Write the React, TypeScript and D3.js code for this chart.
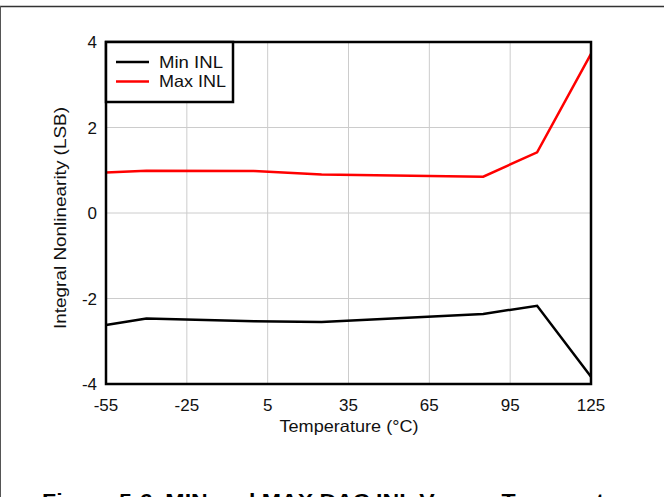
import React from "react";
import * as d3 from "d3";

const temps = [-55, -40, 0, 25, 85, 105, 125];
const minINL = [-2.62, -2.47, -2.53, -2.55, -2.36, -2.17, -3.83];
const maxINL = [0.95, 0.99, 0.98, 0.9, 0.85, 1.42, 3.72];
const xTicks = [-55, -25, 5, 35, 65, 95, 125];
const yTicks = [-4, -2, 0, 2, 4];
const seriesNames = ["Min INL", "Max INL"];
const seriesColors = ["#000000", "#ff0000"];

export default function App() {
  const W = 664, H = 497;
  const L = 106, R = 591, T = 42, B = 384;
  const x = d3.scaleLinear().domain([-55, 125]).range([L, R]);
  const y = d3.scaleLinear().domain([-4, 4]).range([B, T]);
  const line = d3.line<number>().x((_, i) => x(temps[i])).y((d) => y(d));
  const series = [minINL, maxINL];
  const font = "'Liberation Sans', Arial, sans-serif";
  return (
    <svg width={W} height={H} style={{ position: "absolute", left: 0, top: 0, background: "#fff" }} fontFamily={font}>
      <line x1={0} x2={W} y1={6.5} y2={6.5} stroke="#333" strokeWidth={1.5} />
      <line x1={0.5} x2={0.5} y1={6} y2={H} stroke="#555" strokeWidth={1} />
      {xTicks.map((t) => (
        <line key={"gx" + t} x1={x(t)} x2={x(t)} y1={T} y2={B} stroke="#cccccc" strokeWidth={1} />
      ))}
      {yTicks.map((t) => (
        <line key={"gy" + t} x1={L} x2={R} y1={y(t)} y2={y(t)} stroke="#cccccc" strokeWidth={1} />
      ))}
      {series.map((s, k) => (
        <path key={k} d={line(s) || ""} fill="none" stroke={seriesColors[k]} strokeWidth={2.5} strokeLinejoin="miter" />
      ))}
      <rect x={L} y={T} width={R - L} height={B - T} fill="none" stroke="#000" strokeWidth={2.5} />
      {xTicks.map((t) => (
        <text key={"xt" + t} x={x(t)} y={B + 27} textAnchor="middle" fontSize={17} fill="#111">{t}</text>
      ))}
      {yTicks.map((t) => (
        <text key={"yt" + t} x={L - 9} y={y(t) + 6} textAnchor="end" fontSize={17} fill="#111">{t}</text>
      ))}
      <text x={349} y={432} textAnchor="middle" fontSize={16.5} fill="#111" textLength={139} lengthAdjust="spacingAndGlyphs">Temperature (°C)</text>
      <text transform={`translate(66,${218}) rotate(-90)`} textAnchor="middle" fontSize={16.5} fill="#111" textLength={222} lengthAdjust="spacingAndGlyphs">Integral Nonlinearity (LSB)</text>
      <rect x={L} y={T} width={127} height={60} fill="#fff" stroke="#000" strokeWidth={2.5} />
      {seriesNames.map((n, k) => (
        <g key={n}>
          <line x1={116} x2={149} y1={62 + k * 19.5} y2={62 + k * 19.5} stroke={seriesColors[k]} strokeWidth={2.5} />
          <text x={159} y={67.5 + k * 19.5} fontSize={16.5} fill="#111" textLength={k === 0 ? 64 : 67} lengthAdjust="spacingAndGlyphs">{n}</text>
        </g>
      ))}
      <text x={42} y={508} fontSize={20} fontWeight="bold" fill="#000" textLength={598} lengthAdjust="spacingAndGlyphs">Figure 5-6. MIN and MAX DAC INL Versus Temperature</text>
    </svg>
  );
}
